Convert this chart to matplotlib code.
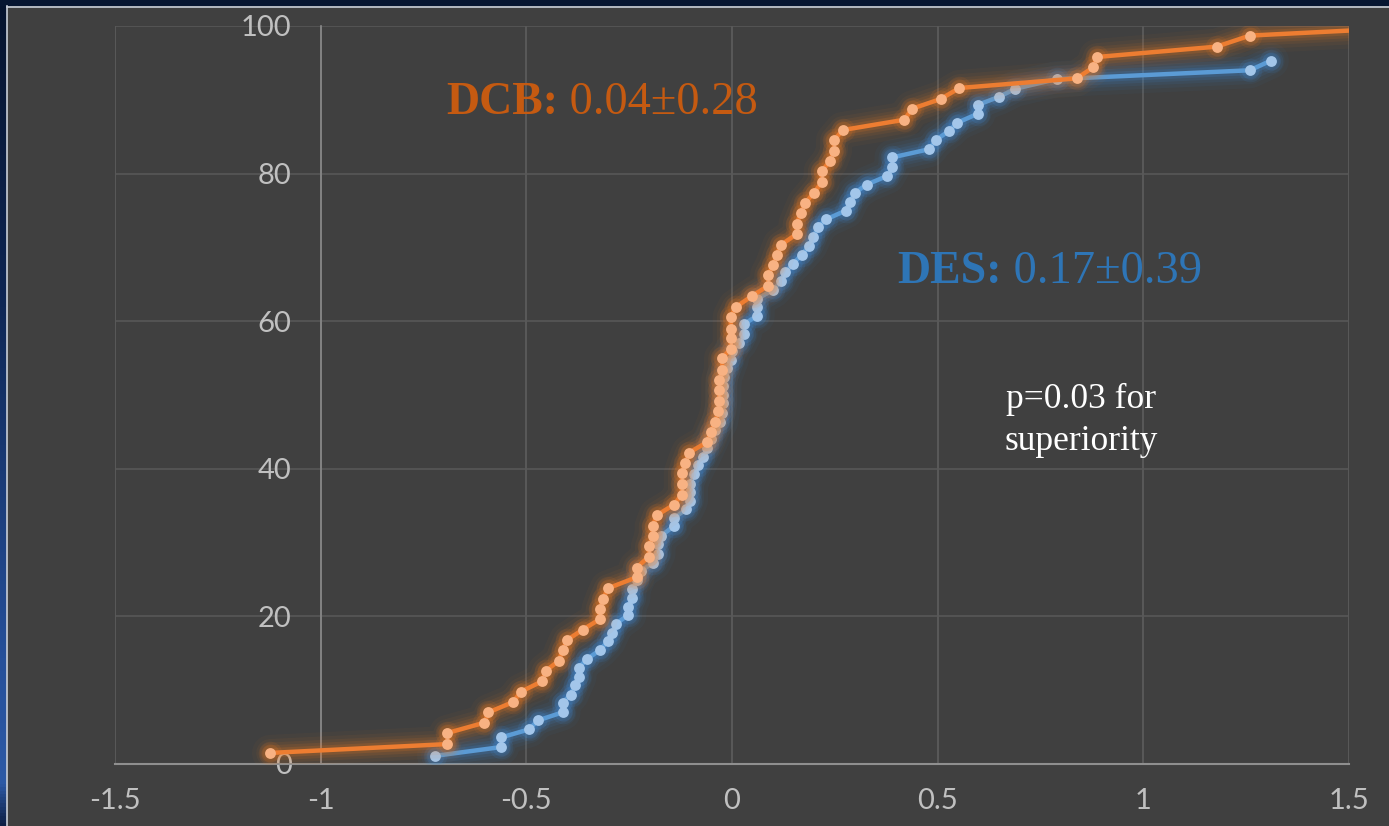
import numpy as np
import matplotlib
matplotlib.use("Agg")
import matplotlib.pyplot as plt
from matplotlib.patches import Rectangle
from matplotlib.lines import Line2D
from matplotlib.colors import LinearSegmentedColormap

# ---------------- data ----------------
dcb_x = [-1.123, -0.692, -0.692, -0.602, -0.592, -0.532, -0.513, -0.462, -0.453, -0.421,
         -0.412, -0.401, -0.363, -0.322, -0.322, -0.313, -0.302, -0.232, -0.232, -0.202,
         -0.202, -0.193, -0.193, -0.183, -0.142, -0.122, -0.122, -0.122, -0.114, -0.104,
         -0.061, -0.051, -0.041, -0.033, -0.031, -0.031, -0.031, -0.024, -0.024, -0.003,
         -0.003, -0.003, -0.003, 0.009, 0.048, 0.088, 0.088, 0.100, 0.109, 0.118,
         0.157, 0.157, 0.167, 0.178, 0.199, 0.218, 0.218, 0.238, 0.248, 0.248,
         0.269, 0.419, 0.438, 0.507, 0.553, 0.838, 0.878, 0.887, 1.178, 1.259, 1.72]
dcb_y = [1.5, 2.7, 4.2, 5.6, 7.0, 8.4, 9.8, 11.2, 12.6, 14.0,
         15.4, 16.8, 18.2, 19.6, 21.0, 22.4, 23.8, 25.3, 26.6, 28.1,
         29.5, 30.9, 32.2, 33.7, 35.1, 36.5, 37.9, 39.4, 40.8, 42.2,
         43.6, 45.0, 46.4, 47.8, 49.2, 50.7, 52.0, 53.4, 55.0, 56.3,
         57.7, 59.0, 60.6, 61.9, 63.4, 64.8, 66.3, 67.6, 69.0, 70.3,
         71.8, 73.2, 74.6, 76.0, 77.4, 78.8, 80.3, 81.7, 83.1, 84.5,
         85.9, 87.3, 88.8, 90.1, 91.6, 92.9, 94.4, 95.8, 97.2, 98.7, 100.0]

des_x = [-0.722, -0.561, -0.561, -0.493, -0.472, -0.412, -0.412, -0.392, -0.382, -0.373,
         -0.373, -0.353, -0.322, -0.302, -0.292, -0.282, -0.252, -0.252, -0.242, -0.242,
         -0.232, -0.221, -0.191, -0.181, -0.181, -0.173, -0.142, -0.142, -0.112, -0.102,
         -0.102, -0.102, -0.092, -0.082, -0.071, -0.061, -0.051, -0.041, -0.029, -0.025,
         -0.021, -0.021, -0.021, -0.019, -0.011, -0.003, 0.000, 0.018, 0.029, 0.029,
         0.060, 0.060, 0.060, 0.099, 0.119, 0.129, 0.149, 0.169, 0.188, 0.198,
         0.208, 0.229, 0.277, 0.287, 0.299, 0.327, 0.378, 0.390, 0.390, 0.479,
         0.497, 0.528, 0.548, 0.597, 0.597, 0.649, 0.689, 0.789, 1.259, 1.310]
des_y = [1.1, 2.3, 3.6, 4.7, 5.9, 7.0, 8.3, 9.4, 10.7, 11.8,
         13.0, 14.2, 15.4, 16.6, 17.8, 19.0, 20.2, 21.3, 22.5, 23.7,
         24.9, 26.2, 27.3, 28.5, 29.8, 30.9, 32.2, 33.3, 34.5, 35.7,
         36.9, 38.0, 39.3, 40.5, 41.6, 42.8, 44.0, 45.2, 46.4, 47.6,
         48.9, 50.0, 51.2, 52.4, 53.6, 54.8, 56.0, 57.1, 58.3, 59.6,
         60.7, 61.9, 63.0, 64.2, 65.4, 66.6, 67.8, 69.0, 70.2, 71.4,
         72.7, 73.8, 75.0, 76.2, 77.4, 78.5, 79.7, 80.9, 82.2, 83.3,
         84.6, 85.8, 86.9, 88.1, 89.3, 90.4, 91.5, 92.8, 94.0, 95.3]

x_ticks = [-1.5, -1.0, -0.5, 0.0, 0.5, 1.0, 1.5]
x_tick_labels = ["-1.5", "-1", "-0.5", "0", "0.5", "1", "1.5"]
y_ticks = [0, 20, 40, 60, 80, 100]
y_tick_labels = ["0", "20", "40", "60", "80", "100"]

dcb_label_bold = "DCB:"
dcb_label_rest = " 0.04\u00b10.28"
des_label_bold = "DES:"
des_label_rest = " 0.17\u00b10.39"
p_text_lines = ["p=0.03 for", "superiority"]

# ---------------- figure ----------------
W, H = 1389, 826
fig = plt.figure(figsize=(W / 100, H / 100), dpi=100)
fig.patch.set_facecolor("#404040")

# left navy strip with gradient (slide background)
strip = fig.add_axes([0, 0, 7 / W, 1])
grad = np.linspace(0, 1, 256).reshape(-1, 1)
cmap = LinearSegmentedColormap.from_list(
    "strip", [(0.0, "#06142e"), (0.35, "#0e2552"), (0.8, "#26509a"), (0.95, "#2d5aa6"), (1.0, "#0d1f45")])
strip.imshow(grad, aspect="auto", cmap=cmap, extent=[0, 1, 1, 0])
strip.set_axis_off()
# top dark strip
fig.add_artist(Rectangle((0, 1 - 6 / H), 1, 6 / H, transform=fig.transFigure,
                         facecolor="#071631", edgecolor="none", zorder=5))
# chart-area border
fig.add_artist(Line2D([7.5 / W, 7.5 / W], [0, 1 - 6 / H], transform=fig.transFigure,
                      color="#c8ced8", lw=1.2, zorder=6))
fig.add_artist(Line2D([7 / W, 1], [1 - 6.5 / H, 1 - 6.5 / H], transform=fig.transFigure,
                      color="#c8ced8", lw=1.2, zorder=6))

ax = fig.add_axes([115 / W, 62 / H, 1234 / W, 738 / H])
ax.set_facecolor("#404040")
ax.set_xlim(-1.5, 1.5)
ax.set_ylim(0, 100)
ax.set_axisbelow(True)

ax.set_xticks(x_ticks)
ax.set_xticklabels(x_tick_labels)
ax.set_yticks(y_ticks)
ax.set_yticklabels(y_tick_labels)
ax.grid(True, axis="y", color="#585858", lw=1.2)
ax.grid(True, axis="x", color="#5e5e5e", lw=1.2)

for s in ["top", "right"]:
    ax.spines[s].set_visible(False)
ax.spines["left"].set_position(("data", -1.0))
ax.spines["left"].set_color("#8a8a8a")
ax.spines["left"].set_linewidth(1.2)
ax.spines["bottom"].set_color("#8f8f8f")
ax.spines["bottom"].set_linewidth(1.5)

ax.tick_params(axis="both", length=0, colors="#bfbfbf", labelsize=21)
ax.tick_params(axis="y", pad=21)
ax.tick_params(axis="x", pad=17)
for lab in ax.get_xticklabels() + ax.get_yticklabels():
    lab.set_fontfamily(["Lato", "DejaVu Sans"])
    lab.set_color("#c0c0c0")


def draw_series(xs, ys, line_col, glow_col, marker_col, z):
    for lw, a in [(26, 0.04), (20, 0.06), (15, 0.08), (11, 0.11), (7, 0.16)]:
        ax.plot(xs, ys, color=glow_col, lw=lw, alpha=a, solid_capstyle="round",
                solid_joinstyle="round", zorder=z)
    for ms, a in [(17, 0.10), (13, 0.16)]:
        ax.plot(xs, ys, linestyle="none", marker="o", markersize=ms, markeredgewidth=0,
                markerfacecolor=glow_col, alpha=a, zorder=z)
    ax.plot(xs, ys, color=line_col, lw=3.2, solid_joinstyle="round", zorder=z + 0.1)
    ax.plot(xs, ys, linestyle="none", marker="o", markersize=7.8, markeredgewidth=0,
            markerfacecolor=marker_col, zorder=z + 0.2)


draw_series(des_x, des_y, "#5b9bd5", "#3d8fe0", "#a3c6ea", 3)
draw_series(dcb_x, dcb_y, "#ed7d31", "#f07a20", "#f8b283", 4)

# ---------------- annotations ----------------
fig.canvas.draw()
renderer = fig.canvas.get_renderer()


def two_part(xpx, ypx, bold, rest, color, size):
    t1 = fig.text(xpx / W, 1 - ypx / H, bold, color=color, fontsize=size,
                  family=["Liberation Serif", "DejaVu Serif"], weight="bold",
                  ha="left", va="baseline", zorder=10)
    bb = t1.get_window_extent(renderer=renderer)
    fig.text(bb.x1 / W, 1 - ypx / H, rest, color=color, fontsize=size + 0.5,
             family=["Liberation Serif", "DejaVu Serif"], weight="normal",
             ha="left", va="baseline", zorder=10)


two_part(446, 114, dcb_label_bold, dcb_label_rest, "#c55a11", 33)
two_part(897, 283, des_label_bold, des_label_rest, "#2e75b6", 33)

for i, line in enumerate(p_text_lines):
    fig.text(1081 / W, 1 - (408 + 42 * i) / H, line, color="white", fontsize=25.5,
             family=["Liberation Serif", "DejaVu Serif"], ha="center", va="baseline",
             zorder=10)

fig.savefig("out.png", dpi=100, facecolor=fig.get_facecolor())
